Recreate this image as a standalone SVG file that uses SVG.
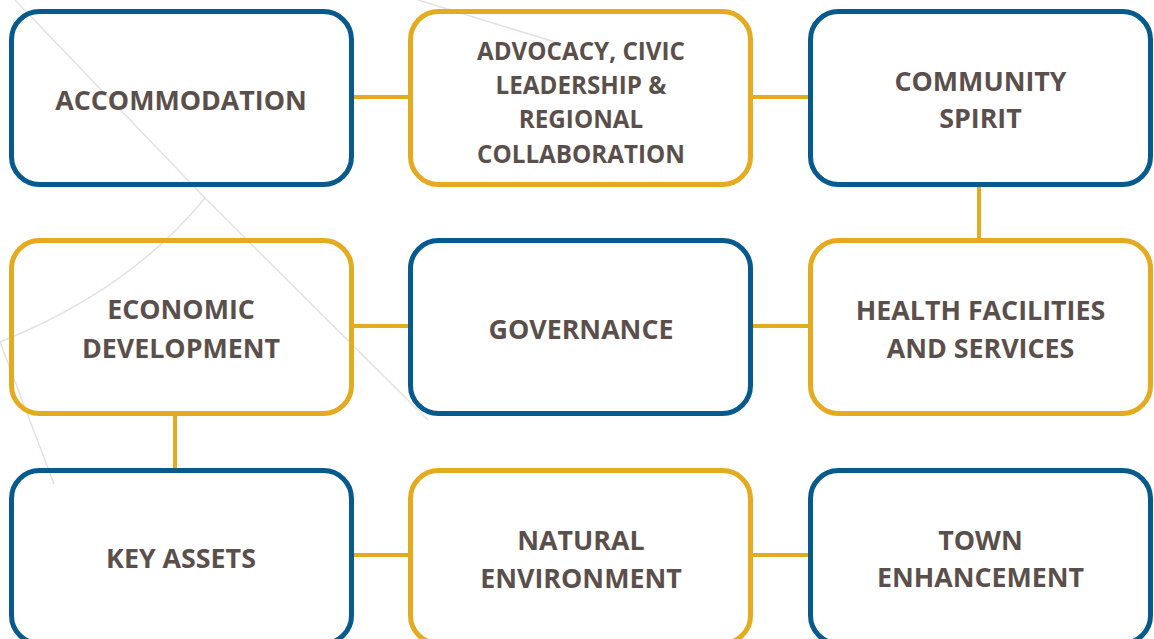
<svg xmlns="http://www.w3.org/2000/svg" width="1154" height="639" viewBox="0 0 1154 639">
<style>
.bg{fill:none;stroke:#e2e2e2;stroke-width:1.5}
.box{fill:none;stroke-width:5}
.blue{stroke:#075A8E}
.gold{stroke:#E4AB20}
.con{stroke:#E4AB20;stroke-width:4;fill:none}
text{font-family:"Open Sans","Liberation Sans",sans-serif;font-weight:700;font-size:26.8px;fill:#5B4F4C;text-anchor:middle}
text.sm{font-size:24.2px}
</style>
<rect width="1154" height="639" fill="#fff"/>
<g id="background">
<path class="bg" d="M15,0 L205,198 L428,420"/>
<path class="bg" d="M205,198 Q130,290 0,342"/>
<path class="bg" d="M0,342 L54,484"/>
<path class="bg" d="M418,0 L555,42"/>
</g>
<g id="connectors">
<line class="con" x1="352" y1="97" x2="410" y2="97"/>
<line class="con" x1="752" y1="97" x2="811" y2="97"/>
<line class="con" x1="979" y1="185" x2="979" y2="240"/>
<line class="con" x1="352" y1="326" x2="410" y2="326"/>
<line class="con" x1="752" y1="326" x2="811" y2="326"/>
<line class="con" x1="175" y1="415" x2="175" y2="470"/>
<line class="con" x1="352" y1="555" x2="410" y2="555"/>
<line class="con" x1="752" y1="555" x2="811" y2="555"/>
</g>
<g id="accommodation">
<rect class="box blue" x="11.5" y="11.5" width="340" height="173" rx="28"/>
<text x="181" y="110">ACCOMMODATION</text>
</g>
<g id="advocacy">
<rect class="box gold" x="410.5" y="11.5" width="340" height="173" rx="28"/>
<text class="sm" x="581" y="60">ADVOCACY, CIVIC</text>
<text class="sm" x="581" y="94">LEADERSHIP &amp;</text>
<text class="sm" x="581" y="128">REGIONAL</text>
<text class="sm" x="581" y="163">COLLABORATION</text>
</g>
<g id="community">
<rect class="box blue" x="810.5" y="11.5" width="340" height="173" rx="28"/>
<text x="980.5" y="91">COMMUNITY</text>
<text x="980.5" y="128">SPIRIT</text>
</g>
<g id="economic">
<rect class="box gold" x="11.5" y="240.5" width="340" height="173" rx="28"/>
<text x="181" y="319">ECONOMIC</text>
<text x="181" y="358">DEVELOPMENT</text>
</g>
<g id="governance">
<rect class="box blue" x="410.5" y="240.5" width="340" height="173" rx="28"/>
<text x="581" y="339">GOVERNANCE</text>
</g>
<g id="health">
<rect class="box gold" x="810.5" y="240.5" width="340" height="173" rx="28"/>
<text x="980.5" y="320">HEALTH FACILITIES</text>
<text x="980.5" y="358">AND SERVICES</text>
</g>
<g id="keyassets">
<rect class="box blue" x="11.5" y="470.5" width="340" height="173" rx="28"/>
<text x="181" y="568">KEY ASSETS</text>
</g>
<g id="natural">
<rect class="box gold" x="410.5" y="470.5" width="340" height="173" rx="28"/>
<text x="581" y="550">NATURAL</text>
<text x="581" y="588">ENVIRONMENT</text>
</g>
<g id="town">
<rect class="box blue" x="810.5" y="470.5" width="340" height="173" rx="28"/>
<text x="980.5" y="550">TOWN</text>
<text x="980.5" y="587">ENHANCEMENT</text>
</g>
</svg>
